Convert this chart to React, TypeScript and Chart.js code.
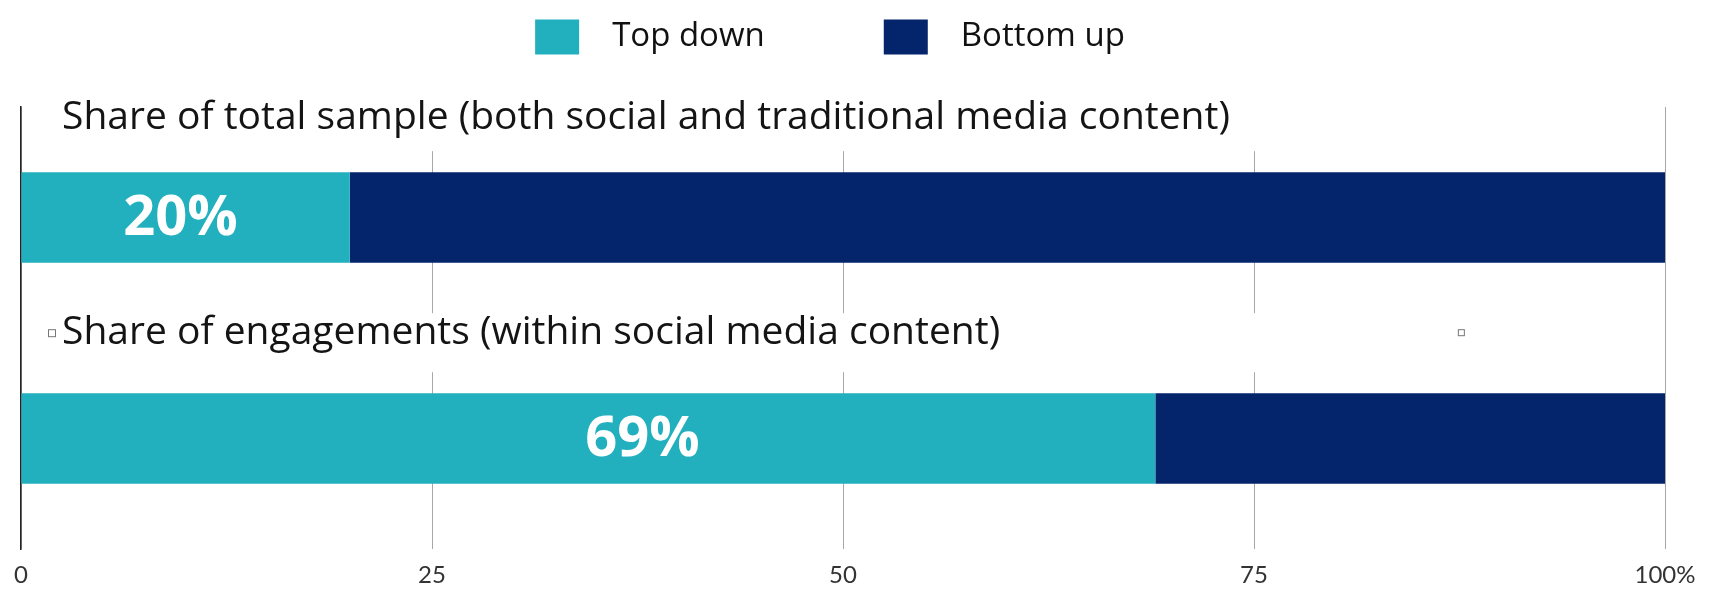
import React, { useEffect, useRef } from 'react';
import { Chart, registerables } from 'chart.js';

Chart.register(...registerables);

const categories = [
  'Share of total sample (both social and traditional media content)',
  'Share of engagements (within social media content)',
];
const seriesNames = ['Top down', 'Bottom up'];
const topDown = [20, 69];
const bottomUp = [80, 31];
const seriesColors = ['#22B0BF', '#04246B'];
const valueLabels = ['20%', '69%'];
const valueLabelAt = [9.7, 37.8];
const xTickValues = [0, 25, 50, 75, 100];

const FONT = '"Open Sans", Lato, sans-serif';

const decorPlugin = {
  id: 'decor',
  afterDraw(chart: any) {
    const ctx = chart.ctx;
    const area = chart.chartArea;
    const xs = chart.scales.x;
    const meta = chart.getDatasetMeta(0);
    ctx.save();
    meta.data.forEach((bar: any, i: number) => {
      const top = bar.y - bar.height / 2;
      ctx.fillStyle = '#ffffff';
      ctx.fillRect(area.left + 2, top - 80, xs.getPixelForValue(90) - area.left - 2, 59);
      ctx.fillStyle = '#141414';
      ctx.font = `39px ${FONT}`;
      ctx.textBaseline = 'middle';
      ctx.textAlign = 'left';
      ctx.fillText(categories[i], area.left + 41, top - (i === 0 ? 54 : 60));
      ctx.fillStyle = '#ffffff';
      ctx.font = `bold 56px ${FONT}`;
      ctx.textAlign = 'center';
      ctx.fillText(valueLabels[i], xs.getPixelForValue(valueLabelAt[i]), bar.y + 2);
      if (i === 1) {
        ctx.strokeStyle = '#777';
        ctx.lineWidth = 1;
        ctx.strokeRect(area.left + 27.5, top - 63.5, 7, 7);
        ctx.strokeRect(xs.getPixelForValue(87.4) + 0.5, top - 63.5, 6, 6);
      }
    });
    // legend
    ctx.font = `33px ${FONT}`;
    const boxW = 44, boxH = 35, gapText = 33, gapItem = 119;
    const widths = seriesNames.map((n) => ctx.measureText(n).width);
    let total = 0;
    widths.forEach((w, i) => { total += boxW + gapText + w + (i < widths.length - 1 ? gapItem : 0); });
    let x = (area.left + area.right) / 2 - 13 - total / 2;
    const cy = 37;
    seriesNames.forEach((n, i) => {
      ctx.fillStyle = seriesColors[i];
      ctx.fillRect(x, cy - boxH / 2, boxW, boxH);
      ctx.fillStyle = '#111';
      ctx.textAlign = 'left';
      ctx.textBaseline = 'middle';
      ctx.fillText(n, x + boxW + gapText, cy);
      x += boxW + gapText + widths[i] + gapItem;
    });
    ctx.restore();
  },
};

export default function App() {
  const ref = useRef<HTMLCanvasElement | null>(null);
  useEffect(() => {
    document.body.style.margin = '0';
    const canvas = ref.current;
    if (!canvas) return;
    const chart = new Chart(canvas, {
      type: 'bar',
      data: {
        labels: categories,
        datasets: [
          { label: seriesNames[0], data: topDown, backgroundColor: seriesColors[0], categoryPercentage: 1, barPercentage: 0.41 },
          { label: seriesNames[1], data: bottomUp, backgroundColor: seriesColors[1], categoryPercentage: 1, barPercentage: 0.41 },
        ],
      },
      options: {
        indexAxis: 'y',
        responsive: false,
        animation: false,
        layout: { padding: { top: 107, left: 21, right: 47, bottom: 3 } },
        plugins: { legend: { display: false }, tooltip: { enabled: false } },
        scales: {
          x: {
            stacked: true,
            min: 0,
            max: 100,
            afterBuildTicks: (axis: any) => { axis.ticks = xTickValues.map((v) => ({ value: v })); },
            afterFit: (axis: any) => { axis.height = 41; },
            grid: { color: '#a8a8a8', drawTicks: false, lineWidth: 1 },
            border: { display: false },
            ticks: {
              padding: 12,
              color: '#333',
              font: { family: 'Lato, sans-serif', size: 24 },
              maxRotation: 0,
              callback: (v: any) => (Number(v) === 100 ? '100%' : String(v)),
            },
          },
          y: {
            stacked: true,
            ticks: { display: false },
            grid: { display: false, drawTicks: false },
            border: { display: true, color: '#222', width: 1.5 },
          },
        },
      },
      plugins: [decorPlugin],
    });
    return () => chart.destroy();
  }, []);
  return <canvas ref={ref} width={1712} height={593} style={{ display: 'block' }} />;
}
